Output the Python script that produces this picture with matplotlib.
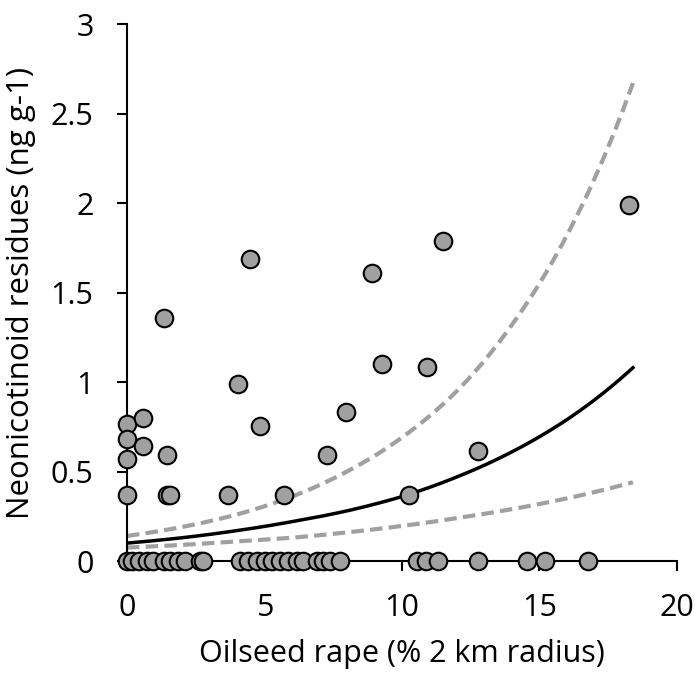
import numpy as np
import matplotlib.pyplot as plt

plt.rcParams['font.family'] = ['Open Sans', 'DejaVu Sans']

# pontos com resíduo zero
zero_x = [0, 0.17, 0.42, 0.72, 0.96, 1.33, 1.56, 1.87, 2.11, 2.65, 2.76,
          4.11, 4.41, 4.72, 5.02, 5.26, 5.56, 5.87, 6.17, 6.41, 6.9, 7.14, 7.38, 7.75,
          10.53, 10.89, 11.32, 12.76, 14.55, 15.2, 16.77]

# pontos com resíduo detectado
det_x = [0, 0.59, 0, 0.57, 0, 1.44, 0, 1.44, 1.56, 3.68, 5.71, 10.25,
         1.35, 4.04, 4.47, 4.84, 7.27, 7.96, 8.91, 9.27, 10.9, 11.49, 12.76, 18.25]
det_y = [0.765, 0.80, 0.68, 0.64, 0.57, 0.59, 0.37, 0.37, 0.37, 0.37, 0.37, 0.37,
         1.36, 0.99, 1.69, 0.755, 0.59, 0.83, 1.61, 1.10, 1.085, 1.79, 0.615, 1.99]

# curva ajustada e intervalos
curva_x = [0, 2, 4, 6, 8, 10, 12, 14, 16, 18.4]
curva_y = [0.10, 0.13, 0.17, 0.22, 0.28, 0.36, 0.47, 0.61, 0.79, 1.08]
sup_y = [0.14, 0.19, 0.26, 0.36, 0.50, 0.69, 0.95, 1.32, 1.82, 2.67]
inf_y = [0.075, 0.09, 0.11, 0.13, 0.16, 0.196, 0.24, 0.29, 0.35, 0.44]

fig = plt.figure(figsize=(6.95, 6.77), dpi=100)
ax = fig.add_axes([0.1827, 0.1713, 0.7913, 0.7932])

# suavização só para desenhar (interp. log-linear entre pontos lidos)
xs = np.linspace(0, 18.4, 200)
ax.plot(xs, np.exp(np.interp(xs, curva_x, np.log(sup_y))), color='#a0a0a0', lw=3, ls=(0, (3, 1.5)), zorder=2)
ax.plot(xs, np.exp(np.interp(xs, curva_x, np.log(inf_y))), color='#a0a0a0', lw=3, ls=(0, (3, 1.5)), zorder=2)
ax.plot(xs, np.exp(np.interp(xs, curva_x, np.log(curva_y))), color='black', lw=2.5, zorder=3)

ax.scatter(zero_x, [0] * len(zero_x), s=160, facecolor='#a0a0a0', edgecolor='black', lw=1.5, zorder=4, clip_on=False)
ax.scatter(det_x, det_y, s=160, facecolor='#a0a0a0', edgecolor='black', lw=1.5, zorder=4, clip_on=False)

ax.set_xlim(0, 20)
ax.set_ylim(0, 3)
ax.set_xticks([0, 5, 10, 15, 20])
ax.set_yticks([0, 0.5, 1, 1.5, 2, 2.5, 3])
ax.set_yticklabels(['0', '0.5', '1', '1.5', '2', '2.5', '3'])
for s in ['top', 'right']:
    ax.spines[s].set_visible(False)
for s in ['left', 'bottom']:
    ax.spines[s].set_linewidth(1.5)
ax.tick_params(direction='out', length=7, width=1.5, labelsize=22)
ax.tick_params(axis='y', pad=17)
ax.tick_params(axis='x', pad=16)
ax.set_xlabel('Oilseed rape (% 2 km radius)', fontsize=22)
ax.set_ylabel('Neonicotinoid residues (ng g-1)', fontsize=22.5)
ax.xaxis.set_label_coords(0.5, -0.145)
ax.yaxis.set_label_coords(-0.165, 0.5)

fig.savefig('out.png', dpi=100)
